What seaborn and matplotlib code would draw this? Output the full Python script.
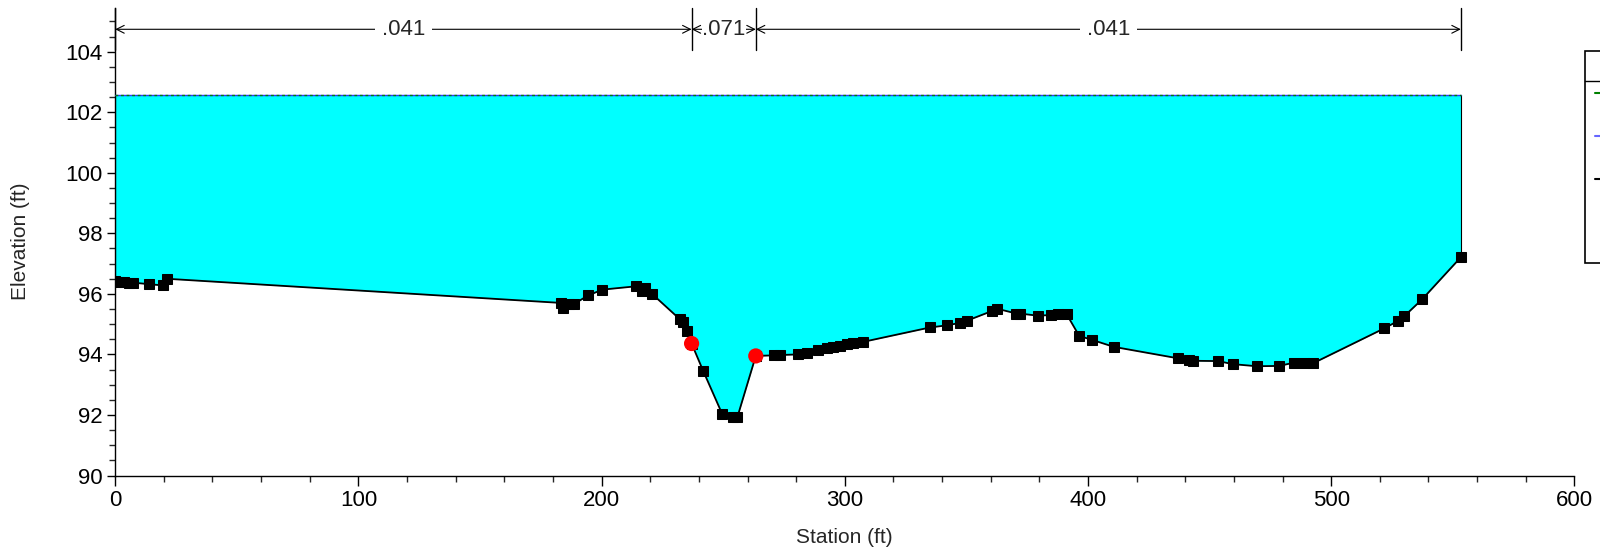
import matplotlib
matplotlib.use("Agg")
import matplotlib.pyplot as plt
import seaborn as sns
import numpy as np
import pandas as pd
from matplotlib.ticker import MultipleLocator
from matplotlib.patches import Rectangle
from matplotlib.lines import Line2D

# ---- data ----
station = [0, 1.5, 3.5, 5.5, 7.5, 14.0, 19.5, 21.1,
           183.5, 184.3, 186.5, 188.5, 194.5, 200.3, 214.1, 216.5, 217.8, 220.6,
           232.2, 233.4, 235.0, 237.0, 241.8, 249.6, 253.9, 255.8, 263.4,
           271.0, 273.3, 280.7, 284.3, 288.9, 292.5, 295.2, 298.0, 300.7, 303.5, 307.3,
           335.0, 341.9, 347.3, 350.1, 360.4, 362.6,
           370.6, 372.0, 379.3, 384.7, 387.8, 391.2, 396.4, 401.7, 410.6,
           437.1, 441.6, 443.0, 453.5, 459.5, 469.3, 478.6, 484.8, 488.8, 492.6,
           521.8, 527.3, 530.0, 537.4, 553.3]
elevation = [96.42, 96.40, 96.39, 96.37, 96.37, 96.32, 96.28, 96.50,
             95.70, 95.52, 95.65, 95.66, 95.95, 96.14, 96.25, 96.10, 96.21, 96.01,
             95.16, 95.06, 94.78, 94.36, 93.45, 92.03, 91.92, 91.92, 93.95,
             93.97, 93.98, 94.00, 94.06, 94.14, 94.20, 94.25, 94.29, 94.34, 94.38, 94.41,
             94.89, 94.96, 95.04, 95.11, 95.43, 95.51,
             95.35, 95.35, 95.28, 95.30, 95.33, 95.33, 94.61, 94.48, 94.25,
             93.87, 93.81, 93.79, 93.78, 93.68, 93.61, 93.62, 93.73, 93.73, 93.71,
             94.86, 95.10, 95.26, 95.82, 97.21]
bank_station = [237.0, 263.4]
bank_elev = [94.36, 93.95]
ws_elev = 102.57
eg_elev = 102.58
n_breaks = [0, 237.0, 263.4, 553.3]
n_values = [".041", ".071", ".041"]

ground = pd.DataFrame({"Station": station, "Elevation": elevation})
banks = pd.DataFrame({"Station": bank_station, "Elevation": bank_elev})

# ---- figure ----
sns.set_theme(style="ticks")
plt.rcParams["font.family"] = ["Liberation Sans", "DejaVu Sans"]

fig = plt.figure(figsize=(16, 5.57), dpi=100)
ax = fig.add_axes([0.072, 0.1463, 0.912, 0.8397])

# water fill
ax.fill_between(ground["Station"], ground["Elevation"], ws_elev,
                color="#00ffff", linewidth=0, zorder=1)
ax.plot([station[0], station[0]], [elevation[0], ws_elev], color="black", lw=0.8, zorder=2)
ax.plot([station[-1], station[-1]], [elevation[-1], ws_elev], color="black", lw=0.8, zorder=2)
# WS and EG lines
ax.plot([station[0], station[-1]], [ws_elev, ws_elev], color="#3333ff", lw=1.0, zorder=3)
ax.plot([station[0], station[-1]], [eg_elev, eg_elev], color="#008000", lw=1.0,
        dashes=(2, 2), zorder=3)

# ground
sns.lineplot(data=ground, x="Station", y="Elevation", ax=ax, color="black",
             linewidth=1.3, marker="s", markersize=7, markeredgecolor="black",
             sort=False, zorder=4)
# bank stations
sns.scatterplot(data=banks, x="Station", y="Elevation", ax=ax, color="red",
                s=120, edgecolor="none", zorder=5)

# manning's n annotations
y_arrow = 104.74
for xb in n_breaks:
    ax.plot([xb, xb], [104.07, 105.45], color="black", lw=1.0, zorder=6, clip_on=False)
for i, val in enumerate(n_values):
    x0, x1 = n_breaks[i], n_breaks[i + 1]
    ax.annotate("", xy=(x0, y_arrow), xytext=(x1, y_arrow),
                arrowprops=dict(arrowstyle="<->", color="black", lw=0.8,
                                shrinkA=0, shrinkB=0, mutation_scale=14),
                zorder=6, annotation_clip=False)
    pad = 5 if (x1 - x0) > 100 else 0.3
    ax.text((x0 + x1) / 2, y_arrow, val, ha="center", va="center", fontsize=16,
            bbox=dict(facecolor="white", edgecolor="none", pad=pad), zorder=7)

# axes styling
ax.set_xlim(0, 600)
ax.set_ylim(90, 105.45)
ax.xaxis.set_major_locator(MultipleLocator(100))
ax.xaxis.set_minor_locator(MultipleLocator(20))
ax.yaxis.set_minor_locator(MultipleLocator(0.5))
ax.set_yticks(np.arange(90, 105, 2))
ax.tick_params(axis="both", which="major", direction="out", width=1,
               labelsize=16, colors="black")
ax.tick_params(axis="x", which="major", length=7.5, pad=3)
ax.tick_params(axis="y", which="major", length=6, pad=3)
ax.tick_params(axis="both", which="minor", direction="out", length=4.5, width=1)
for s in ["top", "right"]:
    ax.spines[s].set_visible(False)
for s in ["left", "bottom"]:
    ax.spines[s].set_color("black")
    ax.spines[s].set_linewidth(1.0)
ax.set_xlabel("Station (ft)", fontsize=15)
ax.set_ylabel("Elevation (ft)", fontsize=15)
ax.xaxis.set_label_coords(0.5, -0.112)
ax.yaxis.set_label_coords(-0.0585, 0.5)
ax.grid(False)

# legend box (partially cut at figure edge, as in reference)
fig.add_artist(Rectangle((1585 / 1600, 1 - 263 / 557), 0.05, (263 - 51) / 557,
                         transform=fig.transFigure, facecolor="white",
                         edgecolor="black", lw=1.2, zorder=10))
fig.add_artist(Line2D([1585 / 1600, 1.0], [1 - 81 / 557, 1 - 81 / 557],
                      transform=fig.transFigure, color="black", lw=1.0, zorder=11))
for yy, cc in [(93, "#008000"), (136, "#6666ff"), (179, "black")]:
    fig.add_artist(Line2D([1595 / 1600, 1.0], [1 - yy / 557, 1 - yy / 557],
                          transform=fig.transFigure, color=cc, lw=1.5, zorder=11))

fig.savefig("out.png", dpi=100)
